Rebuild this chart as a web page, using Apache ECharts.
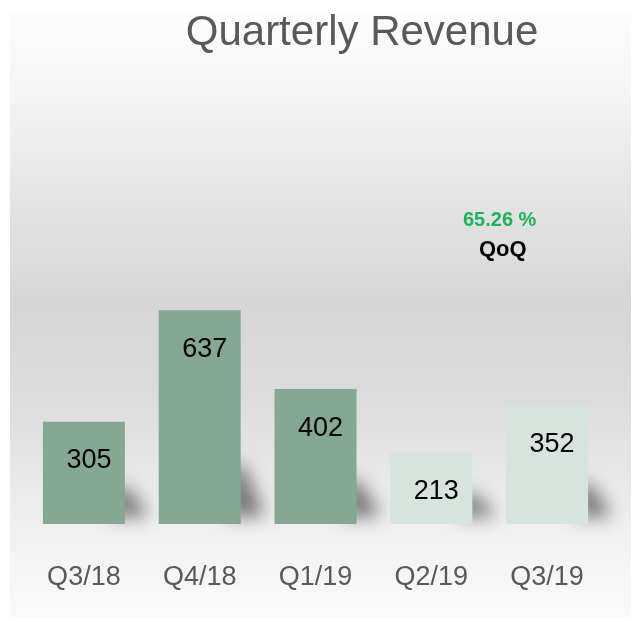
<!DOCTYPE html>
<html>
<head>
<meta charset="utf-8">
<title>Quarterly Revenue</title>
<script src="https://cdn.jsdelivr.net/npm/echarts@6/dist/echarts.min.js"></script>
<style>
  html, body { margin: 0; padding: 0; background: #ffffff; }
</style>
</head>
<body>
<div id="main" style="width: 634px; height: 621px;"></div>
<script type="text/javascript">
  // quarters and revenue
  var quarters = ['Q3/18', 'Q4/18', 'Q1/19', 'Q2/19', 'Q3/19'];
  var revenue = [305, 637, 402, 213, 352];
  var barColors = ['#84a894', '#84a894', '#84a894', '#d7e3dd', '#d7e3dd'];
  var qoqText = '65.26 %';

  var myChart = echarts.init(document.getElementById('main'));

  var barData = revenue.map(function (v, i) {
    return { value: v, itemStyle: { color: barColors[i] } };
  });
  var shadowData = revenue.map(function (v, i) {
    return [i, v];
  });

  // the shape is drawn off to the left, only its blurred shadow lands next to the bar
  var OFF = 2000;

  var option = {
    animation: false,
    title: {
      text: 'Quarterly Revenue',
      left: 357,
      top: 7,
      textAlign: 'center',
      textStyle: {
        fontFamily: 'Liberation Sans, Arial, sans-serif',
        fontSize: 42,
        fontWeight: 'normal',
        color: '#595959'
      }
    },
    graphic: [
      {
        type: 'rect',
        z: -10,
        silent: true,
        shape: { x: 10, y: 13, width: 621, height: 604 },
        style: {
          fill: {
            type: 'linear', x: 0, y: 0, x2: 0, y2: 1,
            colorStops: [
              { offset: 0, color: '#fdfdfd' },
              { offset: 0.14, color: '#f4f4f4' },
              { offset: 0.31, color: '#e4e4e4' },
              { offset: 0.48, color: '#d6d6d6' },
              { offset: 0.64, color: '#dcdcdc' },
              { offset: 0.77, color: '#e8e8e8' },
              { offset: 0.86, color: '#f1f1f1' },
              { offset: 1, color: '#fafafa' }
            ]
          }
        }
      },
      {
        type: 'text',
        left: 463,
        top: 210,
        style: {
          text: qoqText,
          fill: '#1db35a',
          font: 'bold 20px "Liberation Sans", Arial, sans-serif'
        }
      },
      {
        type: 'text',
        left: 479,
        top: 239,
        style: {
          text: 'QoQ',
          fill: '#000000',
          font: 'bold 22px "Liberation Sans", Arial, sans-serif'
        }
      }
    ],
    grid: { left: 26, right: 29, top: 222, bottom: 97 },
    xAxis: {
      type: 'category',
      data: quarters,
      axisLine: { show: false },
      axisTick: { show: false },
      axisLabel: {
        margin: 40,
        fontSize: 27,
        fontFamily: 'Liberation Sans, Arial, sans-serif',
        color: '#595959'
      }
    },
    yAxis: {
      type: 'value',
      min: 0,
      max: 900,
      show: false
    },
    series: [
      {
        // soft shadow at the foot of each bar
        type: 'custom',
        z: 1,
        silent: true,
        data: shadowData,
        renderItem: function (params, api) {
          var top = api.coord([api.value(0), api.value(1)]);
          var base = api.coord([api.value(0), 0]);
          var half = api.size([1, 0])[0] * 0.708 / 2;
          var right = base[0] + half - OFF;
          var h = base[1] - top[1];
          var sh = 16 + h * 0.2;
          return {
            type: 'polygon',
            shape: {
              points: [
                [right - 12, base[1] - sh],
                [right + 2, base[1] - sh],
                [right + 24, base[1] - 10],
                [right + 18, base[1] - 7],
                [right - 12, base[1] - 7]
              ]
            },
            style: {
              fill: '#000',
              shadowBlur: 18,
              shadowOffsetX: OFF,
              shadowColor: 'rgba(0,0,0,0.5)'
            }
          };
        }
      },
      {
        type: 'bar',
        z: 2,
        barWidth: 82,
        data: barData,
        label: {
          show: true,
          position: ['50%', 39],
          offset: [5, 0],
          align: 'center',
          verticalAlign: 'middle',
          fontSize: 27,
          fontFamily: 'Liberation Sans, Arial, sans-serif',
          color: '#000000'
        }
      }
    ]
  };

  myChart.setOption(option);
</script>
</body>
</html>
